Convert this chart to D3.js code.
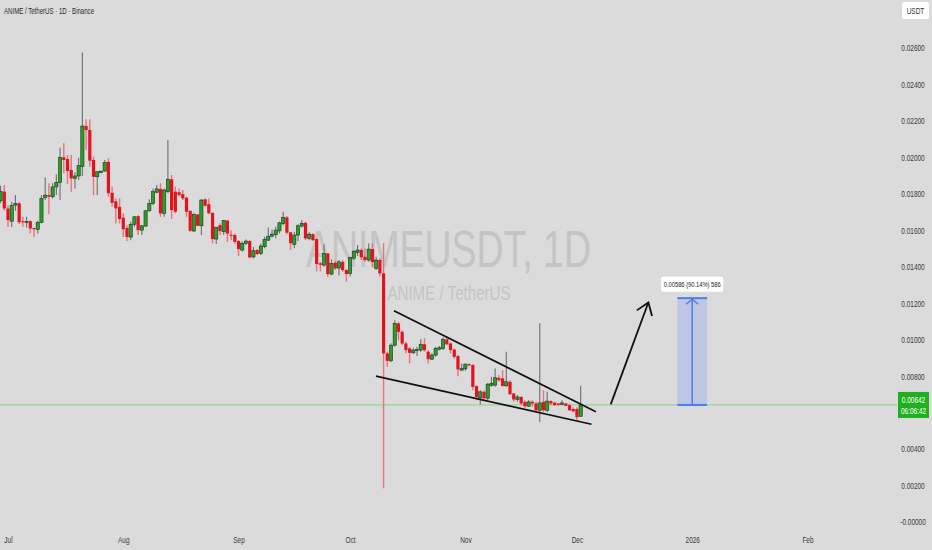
<!DOCTYPE html>
<html><head><meta charset="utf-8">
<script src="https://cdn.jsdelivr.net/npm/d3@7"></script>
<style>html,body{margin:0;padding:0;background:#dbdbdb;overflow:hidden}</style>
</head><body><svg id="c" width="932" height="550"></svg>
<script>
// ---------- DATA ----------
const symbolTitle = "ANIME / TetherUS · 1D · Binance";
const watermarkMain = "ANIMEUSDT, 1D";
const watermarkSub = "ANIME / TetherUS";
const quoteCurrency = "USDT";
const startDate = "2025-06-29";
const opens = [0.01762,0.01812,0.01720,0.01650,0.01738,0.01748,0.01650,0.01644,0.01650,0.01613,
0.01605,0.01644,0.01780,0.01793,0.01784,0.01838,0.01863,0.02000,0.01991,0.01931,
0.01885,0.01898,0.01949,0.02172,0.02150,0.01986,0.01894,0.01916,0.01925,0.01975,
0.01806,0.01759,0.01729,0.01669,0.01613,0.01563,0.01633,0.01678,0.01601,0.01623,
0.01707,0.01748,0.01809,0.01827,0.01693,0.01812,0.01880,0.01812,0.01809,0.01798,
0.01779,0.01707,0.01596,0.01687,0.01625,0.01770,0.01743,0.01696,0.01552,0.01628,
0.01592,0.01653,0.01576,0.01574,0.01541,0.01492,0.01529,0.01541,0.01454,0.01492,
0.01473,0.01510,0.01546,0.01568,0.01576,0.01597,0.01638,0.01671,0.01589,0.01523,
0.01574,0.01623,0.01641,0.01556,0.01579,0.01552,0.01419,0.01409,0.01473,0.01360,
0.01422,0.01393,0.01427,0.01382,0.01364,0.01447,0.01479,0.01492,0.01455,0.01437,
0.01497,0.01392,0.01437,0.01364,0.00925,0.00884,0.00970,0.01089,0.01043,0.00979,
0.00952,0.00928,0.00941,0.00943,0.00975,0.00934,0.00893,0.00916,0.00948,0.00952,
0.01002,0.00979,0.00946,0.00910,0.00833,0.00840,0.00866,0.00861,0.00745,0.00681,
0.00714,0.00679,0.00750,0.00751,0.00791,0.00788,0.00747,0.00769,0.00705,0.00672,
0.00686,0.00659,0.00635,0.00659,0.00650,0.00613,0.00659,0.00613,0.00663,0.00655,
0.00650,0.00646,0.00650,0.00641,0.00620,0.00620,0.00580];
const highs = [0.01845,0.01849,0.01738,0.01757,0.01793,0.01757,0.01674,0.01674,0.01656,0.01613,
0.01653,0.01793,0.01889,0.01858,0.01858,0.01907,0.02053,0.02077,0.02013,0.02013,
0.01918,0.01998,0.02575,0.02209,0.02209,0.02004,0.01925,0.01925,0.01986,0.01995,
0.01839,0.01775,0.01775,0.01693,0.01628,0.01647,0.01678,0.01683,0.01628,0.01711,
0.01770,0.01830,0.01849,0.01858,0.01830,0.02095,0.01903,0.01839,0.01830,0.01821,
0.01784,0.01707,0.01696,0.01689,0.01771,0.01775,0.01775,0.01696,0.01617,0.01639,
0.01656,0.01656,0.01601,0.01584,0.01546,0.01538,0.01550,0.01546,0.01510,0.01497,
0.01528,0.01565,0.01616,0.01605,0.01619,0.01647,0.01702,0.01678,0.01592,0.01592,
0.01633,0.01656,0.01647,0.01590,0.01584,0.01556,0.01428,0.01523,0.01476,0.01441,
0.01433,0.01437,0.01437,0.01386,0.01455,0.01492,0.01519,0.01501,0.01501,0.01528,
0.01528,0.01455,0.01448,0.01530,0.00934,0.00980,0.01107,0.01098,0.01052,0.00988,
0.00961,0.00956,0.00961,0.01002,0.01008,0.00943,0.00925,0.00961,0.00965,0.01013,
0.01016,0.00988,0.00952,0.00916,0.00870,0.00870,0.00870,0.00866,0.00750,0.00723,
0.00723,0.00763,0.00797,0.00842,0.00806,0.00833,0.00934,0.00778,0.00708,0.00696,
0.00690,0.00668,0.00668,0.00668,0.00659,0.01090,0.00723,0.00714,0.00668,0.00659,
0.00653,0.00668,0.00653,0.00650,0.00629,0.00629,0.00748];
const lows = [0.01748,0.01707,0.01618,0.01618,0.01707,0.01634,0.01619,0.01614,0.01584,0.01563,
0.01582,0.01638,0.01766,0.01689,0.01775,0.01793,0.01766,0.01913,0.01854,0.01812,
0.01830,0.01876,0.01898,0.02041,0.01949,0.01793,0.01793,0.01913,0.01921,0.01784,
0.01729,0.01638,0.01638,0.01563,0.01541,0.01546,0.01619,0.01574,0.01574,0.01619,
0.01702,0.01738,0.01803,0.01674,0.01674,0.01803,0.01662,0.01693,0.01784,0.01766,
0.01674,0.01592,0.01592,0.01623,0.01574,0.01729,0.01689,0.01528,0.01525,0.01574,
0.01574,0.01536,0.01546,0.01526,0.01459,0.01483,0.01519,0.01446,0.01446,0.01464,
0.01464,0.01501,0.01541,0.01561,0.01556,0.01583,0.01628,0.01579,0.01492,0.01501,
0.01541,0.01616,0.01546,0.01546,0.01541,0.01374,0.01374,0.01400,0.01345,0.01354,
0.01382,0.01354,0.01372,0.01318,0.01346,0.01437,0.01459,0.01437,0.01428,0.01428,
0.01397,0.01382,0.01347,0.00185,0.00852,0.00878,0.00961,0.00997,0.00970,0.00925,
0.00870,0.00921,0.00910,0.00934,0.00934,0.00870,0.00888,0.00907,0.00941,0.00943,
0.00969,0.00925,0.00897,0.00800,0.00830,0.00830,0.00855,0.00723,0.00668,0.00645,
0.00668,0.00668,0.00742,0.00742,0.00769,0.00742,0.00742,0.00696,0.00659,0.00659,
0.00641,0.00626,0.00632,0.00632,0.00604,0.00549,0.00604,0.00604,0.00641,0.00637,
0.00637,0.00641,0.00635,0.00609,0.00604,0.00558,0.00577];
const closes = [0.01812,0.01720,0.01656,0.01735,0.01748,0.01644,0.01644,0.01648,0.01610,0.01606,
0.01644,0.01775,0.01793,0.01784,0.01838,0.01863,0.02000,0.01986,0.01925,0.01885,
0.01898,0.01955,0.02172,0.02150,0.01982,0.01894,0.01921,0.01925,0.01971,0.01803,
0.01751,0.01720,0.01662,0.01606,0.01563,0.01633,0.01674,0.01601,0.01625,0.01707,
0.01748,0.01812,0.01827,0.01693,0.01821,0.01880,0.01711,0.01702,0.01793,0.01775,
0.01702,0.01597,0.01687,0.01625,0.01766,0.01735,0.01693,0.01552,0.01617,0.01596,
0.01653,0.01582,0.01570,0.01537,0.01497,0.01529,0.01541,0.01451,0.01488,0.01470,
0.01514,0.01550,0.01568,0.01579,0.01601,0.01641,0.01671,0.01587,0.01529,0.01574,
0.01625,0.01638,0.01556,0.01579,0.01546,0.01415,0.01411,0.01473,0.01360,0.01419,
0.01391,0.01427,0.01382,0.01360,0.01450,0.01483,0.01492,0.01452,0.01437,0.01497,
0.01426,0.01437,0.01364,0.00925,0.00884,0.00970,0.01089,0.01043,0.00979,0.00943,
0.00928,0.00943,0.00946,0.00975,0.00943,0.00893,0.00916,0.00952,0.00956,0.01002,
0.00975,0.00943,0.00906,0.00837,0.00842,0.00866,0.00859,0.00741,0.00686,0.00714,
0.00679,0.00756,0.00761,0.00791,0.00778,0.00747,0.00769,0.00701,0.00672,0.00686,
0.00650,0.00635,0.00659,0.00650,0.00613,0.00653,0.00613,0.00663,0.00650,0.00641,
0.00643,0.00653,0.00637,0.00613,0.00607,0.00575,0.00642];
// 0.00600 is hidden behind the last-price label in the reference
const yTickValues = [0,0.002,0.004,0.008,0.010,0.012,0.014,0.016,0.018,0.020,0.022,0.024,0.026];
const monthTicks = ["2025-07-01","2025-08-01","2025-09-01","2025-10-01","2025-11-01","2025-12-01","2026-01-01","2026-02-01"];
const monthLabels = ["Jul","Aug","Sep","Oct","Nov","Dec","2026","Feb"];
const lastPrice = 0.00642;
const countdown = "06:06:42";
const wedgeUpper = [["2025-10-12T19:00Z",0.01159],["2025-12-06T02:00Z",0.00605]];
const wedgeLower = [["2025-10-07T23:00Z",0.00800],["2025-12-04T22:00Z",0.00536]];
const arrowPts = [["2025-12-10T02:00Z",0.00645],["2025-12-20T05:00Z",0.01204]];
const rangeDates = ["2025-12-28","2026-01-05"];
const rangePrices = [0.00642,0.01228];
const rangeLabel = "0.00586 (90.14%) 586";

// ---------- CHART ----------
const W = 932, H = 550, plotRight = 897;
const svg = d3.select("#c");
const FONT = "'Liberation Sans', Arial, sans-serif";
const SX = 0.72; // horizontal condensing of the screenshot text

const x = d3.scaleUtc().domain([new Date("2025-07-01T00:00Z"), new Date("2026-02-01T00:00Z")]).range([8, 807.5]);
const y = d3.scaleLinear().domain([0, 0.026]).range([522, 48]);

svg.append("rect").attr("width", W).attr("height", H).attr("fill", "#dbdbdb");

svg.append("defs").append("clipPath").attr("id", "plot")
  .append("rect").attr("x", 0).attr("y", 0).attr("width", plotRight).attr("height", H);

const plot = svg.append("g").attr("clip-path", "url(#plot)");

// watermark
plot.append("text").attr("transform", "translate(448.5,266.5) scale(0.72,1)")
  .attr("text-anchor", "middle").attr("font-family", FONT).attr("font-size", 52)
  .attr("fill", "#c4c4c4").text(watermarkMain);
plot.append("text").attr("transform", "translate(449,300) scale(0.72,1)")
  .attr("text-anchor", "middle").attr("font-family", FONT).attr("font-size", 21)
  .attr("fill", "#c4c4c4").text(watermarkSub);

// last price line
plot.append("line").attr("x1", 0).attr("x2", plotRight)
  .attr("y1", y(lastPrice)).attr("y2", y(lastPrice))
  .attr("stroke", "#96d796").attr("stroke-width", 1.2);

// candles
const t0 = new Date(startDate + "T00:00Z");
const candles = opens.map((o, i) => ({
  date: d3.utcDay.offset(t0, i), o, h: highs[i], l: lows[i], c: closes[i]
}));
const cg = plot.append("g");
candles.forEach(d => {
  const cx = x(d.date);
  const up = d.c >= d.o;
  cg.append("line").attr("x1", cx).attr("x2", cx).attr("y1", y(d.h)).attr("y2", y(d.l))
    .attr("stroke", up ? "#6e6e6e" : "#e8737d").attr("stroke-width", up ? 1.1 : 1.4);
  const top = y(Math.max(d.o, d.c)), bot = y(Math.min(d.o, d.c));
  cg.append("rect").attr("x", cx - 1.6).attr("width", 3.2)
    .attr("y", top).attr("height", Math.max(1, bot - top))
    .attr("fill", up ? "#1fa51f" : "#e3121c")
    .attr("stroke", up ? "#2b2b2b" : "none").attr("stroke-width", up ? 0.6 : 0);
});

// wedge lines
const pt = p => [x(new Date(p[0])), y(p[1])];
[wedgeUpper, wedgeLower].forEach(seg => {
  const a = pt(seg[0]), b = pt(seg[1]);
  plot.append("line").attr("x1", a[0]).attr("y1", a[1]).attr("x2", b[0]).attr("y2", b[1])
    .attr("stroke", "#111").attr("stroke-width", 1.7);
});

// arrow
{
  const a = pt(arrowPts[0]), b = pt(arrowPts[1]);
  plot.append("line").attr("x1", a[0]).attr("y1", a[1]).attr("x2", b[0]).attr("y2", b[1])
    .attr("stroke", "#111").attr("stroke-width", 1.8);
  const ang = Math.atan2(a[1] - b[1], a[0] - b[0]);
  const L = 14, sp = 0.62;
  const w1 = [b[0] + L * Math.cos(ang - sp), b[1] + L * Math.sin(ang - sp)];
  const w2 = [b[0] + L * Math.cos(ang + sp), b[1] + L * Math.sin(ang + sp)];
  plot.append("path").attr("d", `M${w1[0]},${w1[1]}L${b[0]},${b[1]}L${w2[0]},${w2[1]}`)
    .attr("fill", "none").attr("stroke", "#111").attr("stroke-width", 1.8);
}

// price range box
{
  const x0 = x(new Date(rangeDates[0] + "T00:00Z")), x1 = x(new Date(rangeDates[1] + "T00:00Z"));
  const yTop = y(rangePrices[1]), yBot = y(rangePrices[0]);
  const xm = (x0 + x1) / 2;
  plot.append("rect").attr("x", x0).attr("y", yTop).attr("width", x1 - x0).attr("height", yBot - yTop)
    .attr("fill", "rgba(41,98,255,0.17)");
  [yTop, yBot].forEach(yy => plot.append("line").attr("x1", x0).attr("x2", x1).attr("y1", yy).attr("y2", yy)
    .attr("stroke", "#4f7cf0").attr("stroke-width", 2));
  plot.append("line").attr("x1", xm).attr("x2", xm).attr("y1", yBot).attr("y2", yTop + 1)
    .attr("stroke", "#4f7cf0").attr("stroke-width", 1.5);
  plot.append("path").attr("d", `M${xm - 6},${yTop + 6}L${xm},${yTop + 1}L${xm + 6},${yTop + 6}`)
    .attr("fill", "none").attr("stroke", "#4f7cf0").attr("stroke-width", 1.3);
  // label
  plot.append("rect").attr("x", xm - 31.5).attr("y", yTop - 22).attr("width", 63).attr("height", 16)
    .attr("rx", 3).attr("fill", "#ffffff").attr("stroke", "#d0d0d0").attr("stroke-width", 0.5);
  plot.append("text").attr("transform", `translate(${xm},${yTop - 11}) scale(${SX},1)`)
    .attr("text-anchor", "middle").attr("font-family", FONT).attr("font-size", 8)
    .attr("fill", "#222").text(rangeLabel);
}

// y axis
const yAxis = d3.axisRight(y).tickValues(yTickValues).tickSize(0).tickPadding(0)
  .tickFormat(v => v === 0 ? "-0.00000" : d3.format(".5f")(v));
const ya = svg.append("g").attr("transform", "translate(913,0)").call(yAxis);
ya.select(".domain").remove();
ya.selectAll("text").attr("x", 0).attr("text-anchor", "middle")
  .attr("transform", `scale(${SX},1)`).attr("font-family", FONT).attr("font-size", 9).attr("fill", "#3a3a3a");

// x axis
const xAxis = d3.axisBottom(x).tickValues(monthTicks.map(s => new Date(s + "T00:00Z")))
  .tickSize(0).tickPadding(0).tickFormat((d, i) => monthLabels[i]);
const xa = svg.append("g").attr("transform", "translate(0,537)").call(xAxis);
xa.select(".domain").remove();
xa.selectAll("text").attr("transform", `scale(${SX},1)`)
  .attr("font-family", FONT).attr("font-size", 9).attr("fill", "#3a3a3a");

// last price label
{
  const yy = y(lastPrice);
  svg.append("rect").attr("x", 898).attr("y", yy - 13).attr("width", 31).attr("height", 26)
    .attr("fill", "#1eb01e");
  svg.append("text").attr("transform", `translate(913.5,${yy - 2}) scale(${SX},1)`)
    .attr("text-anchor", "middle").attr("font-family", FONT).attr("font-size", 9)
    .attr("fill", "#fff").text(d3.format(".5f")(lastPrice));
  svg.append("text").attr("transform", `translate(913.5,${yy + 9}) scale(${SX},1)`)
    .attr("text-anchor", "middle").attr("font-family", FONT).attr("font-size", 9)
    .attr("fill", "#fff").text(countdown);
}

// currency box
svg.append("rect").attr("x", 902).attr("y", 2).attr("width", 27).attr("height", 17).attr("rx", 2)
  .attr("fill", "#ffffff");
svg.append("text").attr("transform", `translate(915.5,14) scale(${SX},1)`)
  .attr("text-anchor", "middle").attr("font-family", FONT).attr("font-size", 9)
  .attr("fill", "#333").text(quoteCurrency);

// title
svg.append("text").attr("transform", `translate(4,14) scale(0.64,1)`)
  .attr("font-family", FONT).attr("font-size", 9.5).attr("fill", "#2a2a2a").text(symbolTitle);
</script></body></html>
